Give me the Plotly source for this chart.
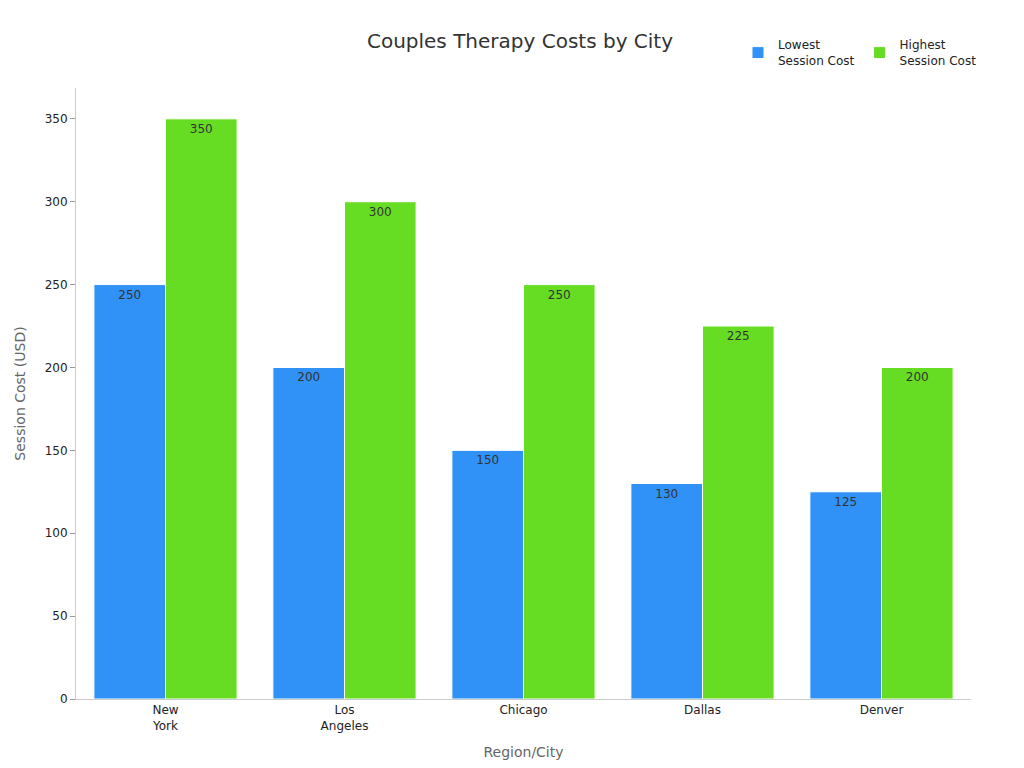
import plotly.graph_objects as go

cities = ["New<br>York", "Los<br>Angeles", "Chicago", "Dallas", "Denver"]
lowest = [250, 200, 150, 130, 125]
highest = [350, 300, 250, 225, 200]

fig = go.Figure()
fig.add_bar(x=cities, y=lowest, name="Lowest<br>Session Cost", marker=dict(color="#3091F7", line=dict(color="white", width=1)),
            text=lowest, textposition="inside", insidetextanchor="end", textfont=dict(color="#333", size=12))
fig.add_bar(x=cities, y=highest, name="Highest<br>Session Cost", marker=dict(color="#66DD22", line=dict(color="white", width=1)),
            text=highest, textposition="inside", insidetextanchor="end", textfont=dict(color="#333", size=12))
fig.update_layout(
    width=1024, height=768, barmode="group", bargap=0.2, bargroupgap=0,
    font=dict(family="DejaVu Sans", size=12, color="#222"),
    paper_bgcolor="white", plot_bgcolor="white",
    margin=dict(l=68, r=61, t=80, b=77, autoexpand=False),
    title=dict(text="Couples Therapy Costs by City", x=0.5, xanchor="center", y=1-33/768, yanchor="middle",
               font=dict(size=20, color="#333")),
    legend=dict(orientation="h", x=730/1024, xref="paper", y=1-45/768, yref="container", xanchor="left", yanchor="middle",
                font=dict(size=12)),
    uniformtext=dict(minsize=12, mode="show"),
)
fig.update_layout(legend_x=(730-68)/(1024-68-61))
fig.update_xaxes(title=dict(text="Region/City", font=dict(size=14, color="#666")), showline=True, linecolor="#ccc", ticks="",
                 automargin=False)
fig.update_yaxes(title=dict(text="Session Cost (USD)", font=dict(size=14, color="#666")), range=[0, 368.6], showgrid=False,
                 showline=True, linecolor="#ccc", ticks="outside", tickcolor="#999", ticklen=5, dtick=50, zeroline=False,
                 automargin=False)
fig.write_html("out.html")
